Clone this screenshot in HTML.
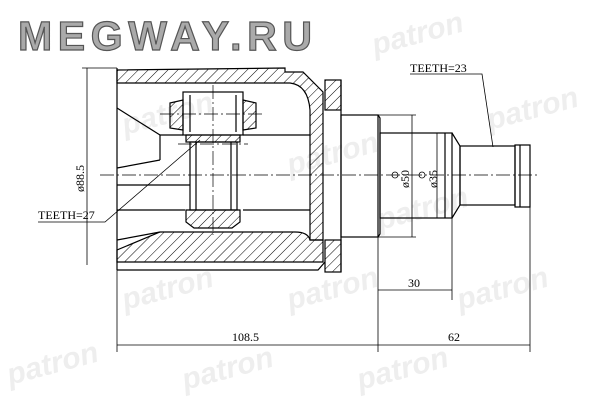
<!DOCTYPE html>
<html><head><meta charset="utf-8"><style>
html,body{margin:0;padding:0;background:#fff;width:600px;height:400px;overflow:hidden}
svg{display:block}
</style></head><body>
<svg width="600" height="400" viewBox="0 0 600 400" xmlns="http://www.w3.org/2000/svg">
<defs>
<pattern id="h" width="7" height="7" patternUnits="userSpaceOnUse" patternTransform="rotate(45)">
<line x1="0" y1="0" x2="0" y2="7" stroke="#000" stroke-width="1"/></pattern>
</defs>
<g fill="#eeeeee" font-family="Liberation Sans, sans-serif" font-weight="bold" font-style="italic" font-size="30">
<text x="375" y="55" transform="rotate(-15 375 55)">patron</text>
<text x="490" y="130" transform="rotate(-15 490 130)">patron</text>
<text x="125" y="135" transform="rotate(-15 125 135)">patron</text>
<text x="290" y="175" transform="rotate(-15 290 175)">patron</text>
<text x="380" y="230" transform="rotate(-15 380 230)">patron</text>
<text x="125" y="310" transform="rotate(-15 125 310)">patron</text>
<text x="290" y="310" transform="rotate(-15 290 310)">patron</text>
<text x="460" y="310" transform="rotate(-15 460 310)">patron</text>
<text x="10" y="385" transform="rotate(-15 10 385)">patron</text>
<text x="185" y="390" transform="rotate(-15 185 390)">patron</text>
<text x="360" y="390" transform="rotate(-15 360 390)">patron</text>
</g>
<text x="18" y="50" font-family="Liberation Sans, sans-serif" font-weight="bold" font-size="41" fill="#aaa" stroke="#555" stroke-width="1.2" textLength="294">MEGWAY.RU</text>

<g stroke="#000" fill="none" stroke-width="1.2">
<path d="M117,70 L285,68 L285,72 L303,72 L323,92 L323,240 L310,240 L310,110 Q308,85 290,83 L117,83 Z" fill="url(#h)"/>
<path d="M117,262 L323,262 L323,240 L310,240 Q308,232 295,232 L160,232 L117,250 Z" fill="url(#h)"/>
<path d="M117,270 L318,270 L325,262"/>
<line x1="117" y1="68" x2="117" y2="270"/>
<line x1="117" y1="108" x2="160" y2="135"/>
<line x1="160" y1="135" x2="183" y2="135"/>
<line x1="160" y1="135" x2="160" y2="160"/>
<line x1="117" y1="168" x2="160" y2="160"/>
<line x1="117" y1="240" x2="160" y2="232"/>
<line x1="243" y1="135" x2="310" y2="135"/>
<line x1="243" y1="210" x2="310" y2="210"/>
<line x1="117" y1="185" x2="190" y2="185"/>
<line x1="117" y1="210" x2="185" y2="210"/>
<rect x="183" y="92" width="60" height="43"/>
<path d="M170,103 L183,100 L183,130 L170,128 Z" fill="url(#h)"/>
<path d="M243,100 L256,103 L256,128 L243,130 Z" fill="url(#h)"/>
<line x1="190" y1="95" x2="190" y2="132"/><line x1="236" y1="95" x2="236" y2="132"/>
<rect x="186" y="135" width="54" height="7" fill="url(#h)"/>
<rect x="190" y="142" width="47" height="68"/>
<line x1="196" y1="142" x2="196" y2="210"/><line x1="231" y1="142" x2="231" y2="210"/>
<path d="M186,210 L240,210 L240,222 L232,228 L194,228 L186,222 Z" fill="url(#h)"/>
<rect x="325" y="80" width="16" height="30" fill="url(#h)"/>
<rect x="325" y="240" width="16" height="32" fill="url(#h)"/>
<line x1="341" y1="80" x2="341" y2="272"/>
<rect x="341" y="115" width="37" height="122"/>
<path d="M378,115 L380,118 L380,234 L378,237"/>
<rect x="380" y="133" width="72" height="85"/>
<line x1="445" y1="133" x2="445" y2="218"/>
<path d="M452,133 L460,146 L460,205 L452,218"/>
<rect x="460" y="146" width="55" height="59"/>
<rect x="515" y="145" width="15" height="62"/>
<line x1="520" y1="145" x2="520" y2="207"/>
</g>
<g stroke="#000" stroke-width="0.7" stroke-dasharray="14,3,2,3" fill="none">
<line x1="100" y1="175" x2="540" y2="175"/>
<line x1="213" y1="85" x2="213" y2="235"/>
<line x1="160" y1="114" x2="265" y2="114"/>
<line x1="178" y1="144" x2="248" y2="144"/>
</g>
<g stroke="#000" stroke-width="0.8" fill="none">
<line x1="82" y1="68" x2="117" y2="68"/>
<line x1="87" y1="68" x2="87" y2="265"/>
<line x1="378" y1="115" x2="416" y2="115"/><line x1="378" y1="237" x2="416" y2="237"/>
<line x1="412" y1="115" x2="412" y2="237"/>
<line x1="437" y1="133" x2="437" y2="218"/>
<line x1="117" y1="270" x2="117" y2="352"/>
<line x1="378" y1="237" x2="378" y2="352"/>
<line x1="452" y1="218" x2="452" y2="300"/>
<line x1="530" y1="207" x2="530" y2="352"/>
<line x1="378" y1="290" x2="452" y2="290"/>
<line x1="117" y1="345" x2="378" y2="345"/>
<line x1="378" y1="345" x2="530" y2="345"/>
<path d="M410,74 L482,74 L493,147"/>
<path d="M38,222 L105,222 L200,140"/>
<circle cx="395" cy="175" r="3"/><circle cx="422" cy="175" r="3"/>
</g>
<g font-family="Liberation Serif, serif" font-size="12" fill="#000">
<text x="410" y="72">TEETH=23</text>
<text x="38" y="219">TEETH=27</text>
<text x="232" y="341">108.5</text>
<text x="448" y="341">62</text>
<text x="408" y="287">30</text>
<text transform="translate(84,192) rotate(-90)">ø88.5</text>
<text transform="translate(409,188) rotate(-90)">ø50</text>
<text transform="translate(437,188) rotate(-90)">ø35</text>
</g>
</svg>
</body></html>
